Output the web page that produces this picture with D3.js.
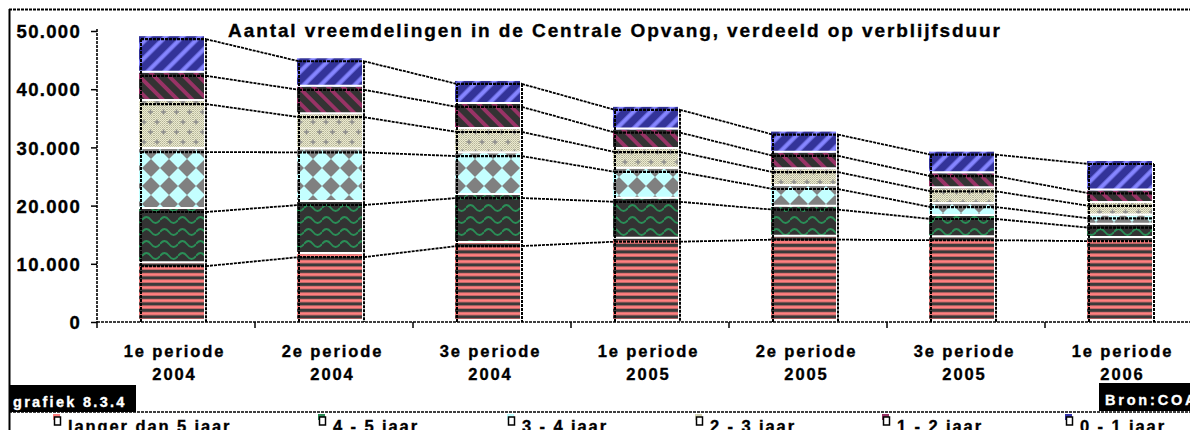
<!DOCTYPE html>
<html>
<head>
<meta charset="utf-8">
<script src="https://cdn.jsdelivr.net/npm/d3@7"></script>
<style>
  html, body { margin: 0; padding: 0; background: #fff; overflow: hidden; }
  text { font-family: "Liberation Sans", Arial, sans-serif; font-weight: bold; fill: #000;
         stroke: #000; stroke-width: 0.35px; }
  text.inv { fill: #fff; stroke: #fff; }
</style>
</head>
<body>
<svg id="chart" width="1190" height="430"></svg>
<script>
// categories (periode + jaar)
const categories = ["1e periode 2004", "2e periode 2004", "3e periode 2004",
                    "1e periode 2005", "2e periode 2005", "3e periode 2005", "1e periode 2006"];
const seriesNames = ["langer dan 5 jaar", "4 - 5 jaar", "3 - 4 jaar", "2 - 3 jaar", "1 - 2 jaar", "0 - 1 jaar"];

// aantallen per verblijfsduur
const langerDan5 = [9600, 11150, 13050, 13800, 14150, 14050, 13900];
const jaar4tot5  = [9300, 8950, 8250, 6850, 5150, 3650, 2300];
const jaar3tot4  = [10300, 9050, 7200, 5150, 3550, 2050, 1600];
const jaar2tot3  = [8250, 6050, 4150, 3400, 2900, 2700, 2150];
const jaar1tot2  = [4850, 4700, 4300, 3350, 2800, 2600, 2150];
const jaar0tot1  = [6300, 4900, 3950, 3900, 3650, 3700, 5050];

const yTicks = [0, 10000, 20000, 30000, 40000, 50000];

const title = "Aantal vreemdelingen in de Centrale Opvang, verdeeld op verblijfsduur";

const seriesValues = [langerDan5, jaar4tot5, jaar3tot4, jaar2tot3, jaar1tot2, jaar0tot1];
const markerColors = ["#ff7f7f", "#2a8a55", "#c0ffff", "#d6d6b8", "#993366", "#3333aa"];

const svg = d3.select("#chart");
const defs = svg.append("defs");

// ---- fill patterns (Excel-like) ----
function pat(id, w, h, rot) {
  const p = defs.append("pattern").attr("id", id)
    .attr("patternUnits", "userSpaceOnUse").attr("width", w).attr("height", h);
  if (rot) p.attr("patternTransform", "rotate(" + rot + ")");
  return p;
}
// langer dan 5: horizontal stripes
let p = pat("p0", 8, 6.5);
p.append("rect").attr("width", 8).attr("height", 6.5).attr("fill", "#3a3a3a");
p.append("rect").attr("y", 2.8).attr("width", 8).attr("height", 3.6).attr("fill", "#a85c5c");
p.append("rect").attr("y", 3.3).attr("width", 8).attr("height", 2.6).attr("fill", "#ff7f7f");
// 4-5: green waves on dark
p = pat("p1", 18, 12);
p.append("rect").attr("width", 18).attr("height", 12).attr("fill", "#333333");
p.append("path").attr("d", "M0,7 Q4.5,1 9,7 T18,7").attr("fill", "none")
  .attr("stroke", "#2a8f57").attr("stroke-width", 1.8);
// 3-4: diamonds cyan / gray
p = pat("p2", 18, 18);
p.append("rect").attr("width", 18).attr("height", 18).attr("fill", "#c4ffff");
p.append("path").attr("d", "M9,0 L18,9 L9,18 L0,9 Z").attr("fill", "#808080");
// 2-3: beige dither with plus signs
const dither = defs.append("pattern").attr("id", "dith")
  .attr("patternUnits", "userSpaceOnUse").attr("width", 2).attr("height", 2);
dither.append("rect").attr("width", 2).attr("height", 2).attr("fill", "#ecead0");
dither.append("rect").attr("width", 1).attr("height", 1).attr("fill", "#b4b498");
dither.append("rect").attr("x", 1).attr("y", 1).attr("width", 1).attr("height", 1).attr("fill", "#c8c8ac");
p = pat("p3", 13, 20);
p.append("rect").attr("width", 13).attr("height", 20).attr("fill", "url(#dith)");
[[3, 5], [9.5, 15]].forEach(function(c) {
  p.append("path").attr("d", "M" + (c[0] - 2.5) + "," + c[1] + "h5M" + c[0] + "," + (c[1] - 2.5) + "v5")
    .attr("stroke", "#8c8c8c").attr("stroke-width", 1.4);
});
// 1-2: purple diagonal "\" on dark
p = pat("p4", 10.5, 10.5, -45);
p.append("rect").attr("width", 10.5).attr("height", 10.5).attr("fill", "#333333");
p.append("rect").attr("width", 3.8).attr("height", 10.5).attr("fill", "#993366");
// 0-1: light blue diagonal "/" on blue
p = pat("p5", 12, 12, 45);
p.append("rect").attr("width", 12).attr("height", 12).attr("fill", "#333399");
p.append("rect").attr("width", 5).attr("height", 12).attr("fill", "#5a5acc");
p.append("rect").attr("x", 0.8).attr("width", 3.4).attr("height", 12).attr("fill", "#8585ff");

// ---- scales ----
const x = d3.scaleBand().domain(categories).range([97, 1203]).padding(0);
const y = d3.scaleLinear().domain([0, 50000]).range([322, 31]);
const barOff = 44, barW = 65;

const rows = categories.map(function(c, i) {
  const r = { cat: c };
  seriesNames.forEach(function(s, k) { r[s] = seriesValues[k][i]; });
  return r;
});
const stacked = d3.stack().keys(seriesNames)(rows);

const dashed = "3,1";

// ---- frame ----
svg.append("line").attr("x1", 9).attr("x2", 1190).attr("y1", 9.5).attr("y2", 9.5)
  .attr("stroke", "#000").attr("stroke-width", 2).attr("stroke-dasharray", dashed);
svg.append("line").attr("x1", 9.5).attr("x2", 9.5).attr("y1", 9).attr("y2", 430)
  .attr("stroke", "#000").attr("stroke-width", 2);
svg.append("line").attr("x1", 9).attr("x2", 1190).attr("y1", 412).attr("y2", 412)
  .attr("stroke", "#000").attr("stroke-width", 1.5).attr("stroke-dasharray", dashed);

// ---- title ----
svg.append("text").attr("x", 228).attr("y", 37).attr("font-size", 19)
  .attr("textLength", 772).attr("lengthAdjust", "spacing").text(title);

// ---- bars: fills (slightly offset, like the original rendering) ----
const fills = svg.append("g").attr("transform", "translate(-2,-3)");
stacked.forEach(function(layer, k) {
  fills.selectAll(null).data(layer).enter().append("rect")
    .attr("x", function(d) { return x(d.data.cat) + barOff; })
    .attr("y", function(d) { return y(d[1]); })
    .attr("width", barW)
    .attr("height", function(d) { return y(d[0]) - y(d[1]); })
    .attr("fill", "url(#p" + k + ")");
  if (k > 0) {
    fills.selectAll(null).data(layer).enter().append("line")
      .attr("x1", function(d) { return x(d.data.cat) + barOff; })
      .attr("x2", function(d) { return x(d.data.cat) + barOff + barW; })
      .attr("y1", function(d) { return y(d[0]) - 1; })
      .attr("y2", function(d) { return y(d[0]) - 1; })
      .attr("stroke", "#fff").attr("stroke-width", 2);
  }
});

// ---- bar outlines ----
const outl = svg.append("g");
stacked.forEach(function(layer) {
  outl.selectAll(null).data(layer).enter().append("line")
    .attr("x1", function(d) { return x(d.data.cat) + barOff; })
    .attr("x2", function(d) { return x(d.data.cat) + barOff + barW; })
    .attr("y1", function(d) { return y(d[1]); })
    .attr("y2", function(d) { return y(d[1]); })
    .attr("stroke", "#000").attr("stroke-width", 2.2).attr("stroke-dasharray", dashed);
});
const topLayer = stacked[stacked.length - 1];
outl.selectAll(null).data(topLayer).enter().append("path")
  .attr("d", function(d) {
    const x0 = x(d.data.cat) + barOff;
    return "M" + x0 + "," + y(0) + "V" + y(d[1]) + "M" + (x0 + barW) + "," + y(d[1]) + "V" + y(0);
  })
  .attr("fill", "none").attr("stroke", "#000").attr("stroke-width", 2).attr("stroke-dasharray", dashed);

// ---- series lines ----
stacked.forEach(function(layer) {
  const segs = d3.pairs(layer);
  outl.selectAll(null).data(segs).enter().append("line")
    .attr("x1", function(d) { return x(d[0].data.cat) + barOff + barW; })
    .attr("y1", function(d) { return y(d[0][1]); })
    .attr("x2", function(d) { return x(d[1].data.cat) + barOff; })
    .attr("y2", function(d) { return y(d[1][1]); })
    .attr("stroke", "#000").attr("stroke-width", 1.8).attr("stroke-dasharray", dashed);
});

// ---- y axis ----
const nl = d3.formatLocale({ decimal: ",", thousands: ".", grouping: [3], currency: ["", ""] });
const fmt = nl.format(",d");
const yAxis = svg.append("g").attr("transform", "translate(97,0)")
  .call(d3.axisLeft(y).tickValues(yTicks).tickFormat(fmt).tickSize(6).tickSizeOuter(0));
yAxis.select(".domain").attr("stroke", "#000").attr("stroke-width", 1.6).attr("stroke-dasharray", dashed)
  .attr("d", "M0,29V322");
yAxis.selectAll(".tick line").attr("stroke", "#000").attr("stroke-width", 1.5);
yAxis.selectAll(".tick text").attr("x", -16).attr("dy", "0.36em")
  .attr("font-size", 18.5).attr("font-family", null).attr("letter-spacing", 1.3).attr("fill", "#000");

// ---- x axis ----
svg.append("line").attr("x1", 97).attr("x2", 1190).attr("y1", 322).attr("y2", 322)
  .attr("stroke", "#000").attr("stroke-width", 1.6).attr("stroke-dasharray", dashed);
svg.append("g").selectAll("line").data(categories).enter().append("line")
  .attr("x1", function(c) { return x(c); }).attr("x2", function(c) { return x(c); })
  .attr("y1", 322).attr("y2", 328).attr("stroke", "#000").attr("stroke-width", 1.5);
const xl = svg.append("g").selectAll("text").data(categories).enter().append("text")
  .attr("text-anchor", "middle").attr("font-size", 16.5).attr("letter-spacing", 1.9);
xl.append("tspan").attr("x", function(c) { return x(c) + barOff + barW / 2 + 1; }).attr("y", 357)
  .text(function(c) { return c.slice(0, c.lastIndexOf(" ")); });
xl.append("tspan").attr("x", function(c) { return x(c) + barOff + barW / 2 + 1; }).attr("y", 380)
  .text(function(c) { return c.slice(c.lastIndexOf(" ") + 1); });

// ---- grafiek / bron labels ----
svg.append("rect").attr("x", 9).attr("y", 385).attr("width", 127).attr("height", 27).attr("fill", "#000");
svg.append("text").attr("class", "inv").attr("x", 13).attr("y", 407).attr("font-size", 14.5)
  .attr("letter-spacing", 2.3).text("grafiek 8.3.4");
svg.append("rect").attr("x", 1099).attr("y", 383).attr("width", 91).attr("height", 28).attr("fill", "#000");
svg.append("text").attr("class", "inv").attr("x", 1105).attr("y", 405).attr("font-size", 14.5)
  .attr("letter-spacing", 2.8).text("Bron:COA");

// ---- legend ----
const legendX = [53, 318, 507, 695, 882, 1065];
const lg = svg.append("g").selectAll("g").data(seriesNames).enter().append("g")
  .attr("transform", function(d, i) { return "translate(" + legendX[i] + ",0)"; });
lg.append("rect").attr("x", 0).attr("y", 414).attr("width", 7).attr("height", 6)
  .attr("fill", function(d, i) { return markerColors[i]; });
lg.append("rect").attr("x", 1.5).attr("y", 417).attr("width", 6).attr("height", 8)
  .attr("fill", "#fff").attr("stroke", "#000").attr("stroke-width", 1.5);
lg.append("text").attr("x", 15).attr("y", 432).attr("font-size", 16.5).attr("letter-spacing", 1.9)
  .text(function(d) { return d; });
</script>
</body>
</html>
